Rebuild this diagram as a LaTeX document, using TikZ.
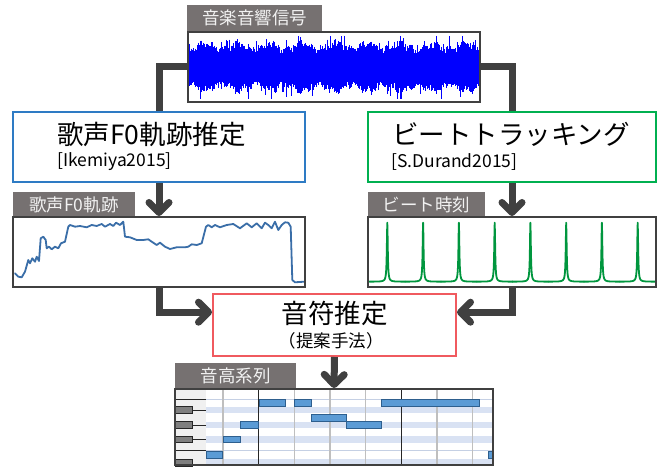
\documentclass[tikz,border=0pt]{standalone}
\usepackage{fontspec}
\setmainfont{Noto Sans CJK JP}
\usetikzlibrary{arrows.meta,calc}
\definecolor{connc}{HTML}{404040}
\definecolor{lblc}{HTML}{767171}
\definecolor{lbltxt}{HTML}{F2F2F2}
\definecolor{blueb}{HTML}{2E7BC4}
\definecolor{greenb}{HTML}{00B050}
\definecolor{redb}{HTML}{F05A5F}
\definecolor{wavec}{HTML}{0000FF}
\definecolor{f0c}{HTML}{3A6EA8}
\definecolor{spikec}{HTML}{00963E}
\definecolor{notef}{HTML}{5B9BD5}
\definecolor{noted}{HTML}{2E5F8E}
\definecolor{bandc}{HTML}{D9E2F3}
\definecolor{kbbg}{HTML}{F0F0F0}
\definecolor{bkeyc}{HTML}{7F7F7F}
\definecolor{gridc}{HTML}{BFBFBF}
\definecolor{rowc}{HTML}{C5D0E4}
\tikzset{
  conn/.style={draw=connc, line width=7pt},
  connarrow/.style={conn, -{Straight Barb[length=10pt,width=20pt,round]}},
  lbl/.style={fill=lblc, text=lbltxt, inner sep=0pt, font=\fontsize{17.5}{19}\selectfont},
  plotbox/.style={draw=connc, line width=2pt, inner sep=0pt},
  procbox/.style={fill=white, line width=2pt, inner sep=0pt},
  bigtxt/.style={inner sep=0pt, font=\fontsize{26.5}{28}\selectfont},
  reftxt/.style={inner sep=0pt, font=\fontsize{17.5}{19}\selectfont},
  wavel/.style={draw=wavec, line width=0.7pt},
  f0line/.style={draw=f0c, line width=1.8pt, line join=round, line cap=round},
  spikeline/.style={draw=spikec, line width=1.8pt, line join=round, line cap=round},
  notebox/.style={fill=notef, draw=noted, line width=0.8pt},
  bkey/.style={fill=bkeyc, draw=black!85, line width=0.8pt},
  beatline/.style={draw=gridc, line width=1.1pt},
  barline/.style={draw=black!85, line width=1pt},
}
\begin{document}
\begin{tikzpicture}[x=1pt,y=-1pt]
\useasboundingbox (0,0) rectangle (662,468);
\fill[white] (0,0) rectangle (662,468);

% ---------- top waveform ----------
\node[lbl, minimum width=135, minimum height=26] (wavelbl) at (254.5,18) {音楽音響信号};
\fill[wavec] (189.5,53) rectangle (478.5,82);
\pgfmathsetseed{11}
\foreach \x in {189.5,190,...,478.5}{
  \pgfmathsetmacro\env{3*sin(\x*11)+2*sin(\x*29+40)}
  \pgfmathsetmacro\u{15+8*rnd+\env+(rnd>0.9)*13*rnd}
  \pgfmathsetmacro\d{15+8*rnd+\env+(rnd>0.9)*13*rnd}
  \draw[wavel] (\x,{67-min(\u,31)}) -- (\x,{67+min(\d,32)});
}
\node[plotbox, minimum width=292, minimum height=70] (wave) at (334,67) {};

% ---------- process boxes ----------
\node[procbox, draw=blueb, minimum width=292, minimum height=70] (f0est) at (159,147.5) {};
\node[bigtxt, anchor=west] (f0title) at (57,134) {歌声F0軌跡推定};
\node[reftxt, anchor=west] (f0ref) at (57,162) {[Ikemiya2015]};

\node[procbox, draw=greenb, minimum width=288, minimum height=70] (beat) at (512,147.5) {};
\node[bigtxt, anchor=west] (beattitle) at (392,134) {ビートトラッキング};
\node[reftxt, anchor=west] (beatref) at (391,162) {[S.Durand2015]};

% ---------- F0 plot ----------
\node[lbl, minimum width=122, minimum height=25] (f0lbl) at (74,204.5) {歌声F0軌跡};
\draw[f0line] plot coordinates {(15,273.3) (18.3,276.7) (21.7,277.3) (25,271.7) (28.3,260) (30,263.3) (32.3,258.3) (35,261.7) (36.7,256.7) (39,261) (40.7,238.3) (43.3,236.7) (45.7,240) (46.7,248.3) (49,246.7) (51.7,249.3) (55,246.7) (58.3,248.3) (61,243.3) (65,241.7) (68.3,226.7) (70,225) (75,226.7) (80,226) (86.7,227.3) (91.7,225) (96.7,226) (101.7,224) (105,226.7) (110,224) (113.3,226) (116,222.7) (120,225) (123.3,221.7) (125,236.7) (130,237.3) (136.7,240) (143.3,240) (148.3,239.3) (151.7,241.7) (156.7,245) (160,242.7) (165,246.7) (170,249) (176.7,247.3) (185,247.3) (188.3,246.7) (191.7,244.3) (196.7,245) (201.7,243.3) (206,226.7) (208.3,225) (211.7,227.3) (215,225) (220,227.3) (226.7,225) (233.3,224) (240,228.3) (246.7,223.3) (251.7,227.3) (256.7,223.3) (261.7,228.3) (265,222.7) (268.3,225) (271.7,228.3) (275,221.7) (278.3,230) (281.7,225) (285,222.3) (288.3,222.7) (290.7,226.7) (292.3,280) (295,282.3) (304,281.7)};
\node[plotbox, minimum width=292, minimum height=70] (f0plot) at (159,252) {};

% ---------- beat plot ----------
\node[lbl, minimum width=117, minimum height=25] (beatlbl) at (426.5,204.5) {ビート時刻};
\foreach \c in {387.3,423.1,458.9,494.7,530.4,566.2,601.9,637.7}{
  \draw[spikeline] plot[domain=-17.9:17.9, samples=145] ({\c+\x},{281.7-59*0.3/(0.3+(\x)*(\x))});
}
\node[plotbox, minimum width=288, minimum height=70] (beatplot) at (512,252) {};

% ---------- note estimation ----------
\node[procbox, draw=redb, minimum width=243, minimum height=62] (note) at (334.5,325) {};
\node[bigtxt] (notetitle) at (334.5,313) {音符推定};
\node[reftxt] (notesub) at (331,341) {（提案手法）};

% ---------- piano roll ----------
\node[lbl, minimum width=121, minimum height=26] (rolllbl) at (235.5,376) {音高系列};
\fill[kbbg] (175,389) rectangle (206,465);
\foreach \a/\b in {406.7/413.3, 421.7/428.3, 436/442.7, 459/465}
  \fill[bandc] (206,\a) rectangle (493,\b);
\draw[rowc, line width=0.8pt] (206,399) -- (493,399) (206,450) -- (493,450);
\foreach \x in {223,294.4,330,365.7,437,472.8}
  \draw[beatline] (\x,389) -- (\x,465);
\foreach \x in {258.7,401.4}
  \draw[barline] (\x,389) -- (\x,465);
\draw[black!85, line width=1pt] (175,399) -- (206,399) (175,450) -- (206,450);
\foreach \m in {410,425,439.4}
  \draw[black!85, line width=1pt] (192,\m) -- (206,\m);
\foreach \a/\b in {406.7/413.3, 421.7/428.3, 436/442.7, 459/466}
  \draw[bkey] (175,\a) rectangle (192,\b);
\foreach \xa/\xb/\ya/\yb in {259/285/399.5/406.5, 294/311/399.5/406.5, 381.7/479/399.5/406.5,
    311.7/346/414.3/421, 240/258/421.7/428.3, 346.7/381.7/421.7/428.3,
    223/240.7/436/442.7, 206/222.7/451/458.3, 488/493/451/458.3}
  \draw[notebox] (\xa,\ya) rectangle (\xb,\yb);
\node[plotbox, minimum width=318, minimum height=76] (roll) at (334,427) {};

% ---------- connectors ----------
\draw[conn] (wave.west) -| (f0est.north);
\draw[conn] (wave.east) -| (beat.north);
\draw[connarrow] (f0est.south) -- (f0plot.north);
\draw[connarrow] (beat.south) -- (beatplot.north);
\draw[connarrow] (f0plot.south) |- ($(note.north west)!0.3!(note.south west)$);
\draw[connarrow] (beatplot.south) |- ($(note.north east)!0.3!(note.south east)$);
\draw[connarrow] (note.south) -- (roll.north);
\end{tikzpicture}
\end{document}
